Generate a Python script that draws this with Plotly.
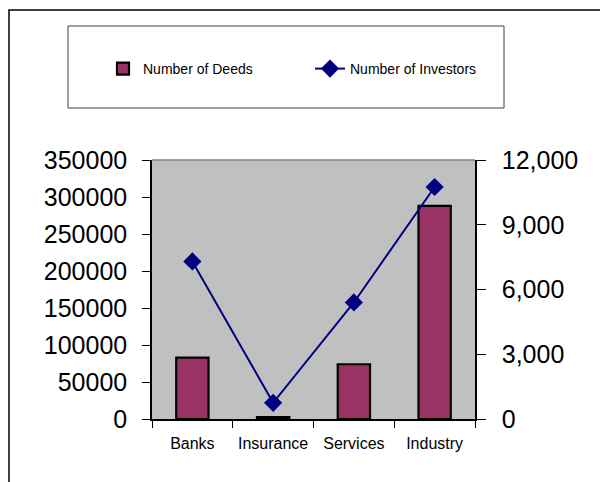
import plotly.graph_objects as go

# Sector data
categories = ["Banks", "Insurance", "Services", "Industry"]
deeds = [83000, 2500, 74000, 288000]
investors = [7300, 750, 5400, 10750]

left_ticks = [0, 50000, 100000, 150000, 200000, 250000, 300000, 350000]
right_ticks = [0, 3000, 6000, 9000, 12000]
right_tick_text = ["0", "3,000", "6,000", "9,000", "12,000"]

W, H = 600, 482
L, R, T, B = 152, 475, 160, 419  # plot area in px


def px_x(x):
    return (x - L) / (R - L)


def px_y(y):
    return (B - y) / (B - T)


FONT = "Liberation Sans, Arial, sans-serif"

fig = go.Figure()
fig.add_trace(go.Bar(
    x=categories, y=deeds, name="Number of Deeds",
    marker=dict(color="#993366", line=dict(color="black", width=2.2)),
    width=0.4, yaxis="y",
))
fig.add_trace(go.Scatter(
    x=categories, y=investors, name="Number of Investors",
    mode="lines+markers", yaxis="y2",
    line=dict(color="#000080", width=2),
    marker=dict(symbol="diamond", size=14, color="#000080"),
))

shapes = [
    # outer chart border
    dict(type="rect", xref="paper", yref="paper",
         x0=px_x(9), x1=px_x(640), y0=px_y(520), y1=px_y(10),
         line=dict(color="black", width=1.5), fillcolor="rgba(0,0,0,0)", layer="below"),
    # legend box
    dict(type="rect", xref="paper", yref="paper",
         x0=px_x(68), x1=px_x(504), y0=px_y(108), y1=px_y(26),
         line=dict(color="#404040", width=1), fillcolor="white", layer="below"),
    # plot area top border
    dict(type="line", xref="paper", yref="paper",
         x0=0, x1=1, y0=1, y1=1, line=dict(color="#808080", width=1.5)),
]

fig.update_layout(
    width=W, height=H,
    margin=dict(l=L, r=W - R, t=T, b=H - B, pad=0),
    paper_bgcolor="white", plot_bgcolor="#C0C0C0",
    font=dict(family=FONT, color="black"),
    bargap=0.6,
    shapes=shapes,
    showlegend=True,
    legend=dict(
        orientation="h", x=px_x(103), y=px_y(69), xanchor="left", yanchor="middle",
        bgcolor="rgba(0,0,0,0)", font=dict(size=14, family=FONT),
        entrywidth=162, entrywidthmode="pixels", itemwidth=30,
    ),
    xaxis=dict(
        showgrid=False, showline=True, linecolor="black", linewidth=1.5,
        ticks="outside", ticklen=7, tickcolor="black", tickson="boundaries",
        tickfont=dict(size=16), ticklabelstandoff=9,
    ),
    yaxis=dict(
        range=[0, 350000], tickvals=left_ticks, ticktext=[str(v) for v in left_ticks],
        showgrid=False, showline=True, linecolor="black", linewidth=1.5,
        ticks="outside", ticklen=8, tickcolor="black",
        tickfont=dict(size=25), ticklabelstandoff=10, zeroline=False,
    ),
    yaxis2=dict(
        range=[0, 12000], tickvals=right_ticks, ticktext=right_tick_text,
        overlaying="y", side="right",
        showgrid=False, showline=True, linecolor="black", linewidth=1.5,
        ticks="outside", ticklen=9, tickcolor="black",
        tickfont=dict(size=25), ticklabelstandoff=11, zeroline=False,
    ),
)

fig.write_html("out.html")
